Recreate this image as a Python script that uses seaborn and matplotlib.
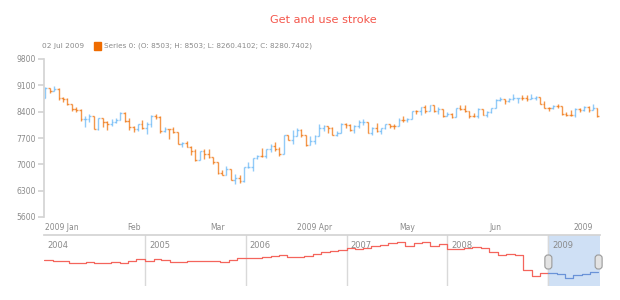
import pandas as pd
import numpy as np
import matplotlib.pyplot as plt
import seaborn as sns
from matplotlib.patches import Rectangle, FancyBboxPatch

sns.set_theme(style="white")
plt.rcParams["font.family"] = ["DejaVu Sans"]

# daily OHLC, 2 Jan 2009 .. 2 Jul 2009 (trading days only)
holidays = ["2009-01-19", "2009-02-16", "2009-04-10", "2009-05-25"]
dates = pd.bdate_range("2009-01-02", "2009-07-02").drop(pd.to_datetime(holidays))

open_ = [8772, 9035, 8953, 9015, 8770, 8742, 8599, 8474, 8449, 8200, 8212, 8281, 7949, 8228, 8123, 8078, 8116, 8175, 8375, 8149,
         8001, 7937, 8078, 7957, 8063, 8281, 8271, 7889, 7940, 7933, 7850, 7553, 7556, 7466, 7366, 7115, 7351, 7271, 7182,
         7063, 6763, 6726, 6876, 6594, 6627, 6547, 6926, 6930, 7170, 7224, 7217, 7396, 7487, 7401, 7278, 7776, 7660, 7750, 7925, 7776, 7522,
         7609, 7762, 7978, 8018, 7976, 7790, 7837, 8083, 8058, 7920, 8030, 8125, 8131, 7842, 7970, 7887, 7957, 8076, 8025, 8017, 8186,
         8168, 8212, 8427, 8411, 8512, 8410, 8575, 8419, 8469, 8285, 8331, 8269, 8504, 8475, 8422, 8292, 8277, 8473, 8300, 8404,
         8500, 8721, 8741, 8675, 8750, 8763, 8764, 8763, 8739, 8771, 8799, 8612, 8505, 8497, 8556, 8540, 8339, 8323, 8300, 8472, 8438, 8529,
         8447, 8503]
high = [9065, 9040, 9088, 9017, 8790, 8770, 8603, 8523, 8460, 8272, 8341, 8290, 8233, 8240, 8152, 8217, 8226, 8381, 8385, 8243,
        8010, 8082, 8168, 8131, 8315, 8346, 8275, 7998, 7950, 7981, 7855, 7601, 7609, 7494, 7400, 7362, 7399, 7403, 7190,
        7070, 6849, 6959, 6880, 6755, 6710, 6930, 7064, 7175, 7247, 7428, 7400, 7541, 7581, 7465, 7780, 7780, 7918, 7959, 7930, 7780, 7750,
        7789, 8075, 8034, 8020, 7980, 7880, 8088, 8090, 8060, 8033, 8169, 8198, 8135, 7986, 8102, 7963, 8083, 8080, 8081, 8224, 8274,
        8225, 8430, 8441, 8519, 8575, 8587, 8580, 8513, 8472, 8397, 8360, 8508, 8579, 8588, 8425, 8359, 8486, 8480, 8431, 8505,
        8732, 8800, 8745, 8755, 8878, 8776, 8835, 8830, 8857, 8807, 8802, 8676, 8524, 8586, 8612, 8542, 8397, 8453, 8491, 8488, 8540, 8557,
        8607, 8503]
low = [8761, 8892, 8941, 8720, 8651, 8577, 8422, 8396, 8140, 7995, 8116, 7940, 7906, 7995, 7909, 8023, 8088, 8170, 8134, 7925,
       7858, 7881, 7926, 7811, 8001, 8201, 7841, 7851, 7674, 7835, 7530, 7469, 7448, 7249, 7093, 7110, 7139, 7167, 7014,
       6737, 6706, 6720, 6573, 6470, 6517, 6540, 6902, 6829, 7142, 7203, 7169, 7319, 7361, 7231, 7270, 7641, 7545, 7745, 7739, 7484, 7515,
       7548, 7755, 7880, 7820, 7770, 7749, 7830, 7973, 7884, 7839, 7967, 8051, 7832, 7776, 7868, 7806, 7950, 7961, 7934, 8010, 8115,
       8132, 8205, 8341, 8324, 8366, 8405, 8393, 8349, 8263, 8280, 8240, 8262, 8447, 8384, 8229, 8259, 8222, 8299, 8245, 8368,
       8495, 8680, 8602, 8645, 8705, 8618, 8722, 8675, 8735, 8700, 8594, 8498, 8430, 8463, 8486, 8317, 8287, 8291, 8262, 8393, 8421, 8389,
       8440, 8260]
close = [9035, 8953, 9015, 8770, 8742, 8599, 8474, 8449, 8200, 8212, 8281, 7949, 8228, 8123, 8078, 8116, 8175, 8375, 8149, 8001,
         7937, 8078, 7957, 8063, 8281, 8271, 7889, 7940, 7933, 7850, 7553, 7556, 7466, 7366, 7115, 7351, 7271, 7182, 7063,
         6763, 6726, 6876, 6594, 6627, 6547, 6926, 6930, 7170, 7224, 7217, 7396, 7487, 7401, 7278, 7776, 7660, 7750, 7925, 7776, 7522, 7609,
         7762, 7978, 8018, 7976, 7790, 7837, 8083, 8058, 7920, 8030, 8125, 8131, 7842, 7970, 7887, 7957, 8076, 8025, 8017, 8186, 8168,
         8212, 8427, 8411, 8512, 8410, 8575, 8419, 8469, 8285, 8331, 8269, 8504, 8475, 8422, 8292, 8277, 8473, 8300, 8404, 8500,
         8721, 8741, 8675, 8750, 8763, 8764, 8763, 8739, 8771, 8799, 8612, 8505, 8497, 8556, 8540, 8339, 8323, 8300, 8472, 8438, 8529, 8447,
         8504, 8281]

df = pd.DataFrame({"date": dates, "open": open_, "high": high, "low": low, "close": close})
df["i"] = np.arange(len(df))
df["up"] = df["close"] >= df["open"]

# scroller: monthly levels Jan 2004 .. Jul 2009
scr_dates = pd.date_range("2004-01-01", "2009-07-01", freq="MS")
scr_vals = [10347, 10247, 10147, 9847, 9807, 10007, 9847, 9807, 9947, 9687, 10147, 10647,
            10147, 10607, 10347, 9887, 9947, 10147, 10147, 10147, 10207, 9887, 10347, 10687,
            10687, 10847, 11007, 11247, 11347, 10887, 11007, 11247, 11547, 12007, 12207, 12347,
            12687, 12647, 12847, 13207, 13447, 13747, 14007, 13147, 13747, 14007, 13147, 13547,
            12607, 12647, 12747, 12947, 12747, 11947, 11347, 11607, 11347, 8347, 7147, 7847,
            7807, 7547, 6747, 7347, 7547, 7947, 8047]
years = ["2004", "2005", "2006", "2007", "2008", "2009"]

UP, DOWN = "#64b5f6", "#ef6c00"
GRAY = "#8a8a8a"

fig = plt.figure(figsize=(6.2, 3.0), dpi=100)
ax = fig.add_axes([44/620, 1-217/300, 556/620, 158/300])

# OHLC bars
cols = np.where(df["up"], UP, DOWN)
ax.vlines(df["i"], df["low"], df["high"], colors=cols, lw=1, alpha=0.7)
ax.hlines(df["open"], df["i"] - 0.4, df["i"], colors=cols, lw=1, alpha=0.7)
ax.hlines(df["close"], df["i"], df["i"] + 0.4, colors=cols, lw=1, alpha=0.7)

ax.set_xlim(-0.3, len(df) - 0.4)
ax.set_ylim(5600, 9800)
ax.set_yticks(np.arange(5600, 9801, 700))
for s in ["top", "right", "bottom"]:
    ax.spines[s].set_visible(False)
ax.spines["left"].set_color("#d4d4d4")
ax.tick_params(axis="y", length=4, color="#d4d4d4", labelcolor=GRAY, labelsize=5.5, pad=2, left=True)
month_first = df.groupby(df["date"].dt.month)["i"].min().values
xlabels = ["2009 Jan", "Feb", "Mar", "2009 Apr", "May", "Jun", "2009"]
ax.set_xticks(month_first)
ax.set_xticklabels(xlabels)
ax.tick_params(axis="x", length=0, labelcolor=GRAY, labelsize=5.5, pad=4)
tl = ax.get_xticklabels()
tl[0].set_ha("left")
tl[-1].set_ha("right")

# title & legend
fig.text(323/620, 1-20/300, "Get and use stroke", color="#f4564b", fontsize=8.1, ha="center", va="center")
fig.text(42/620, 1-46/300, "02 Jul 2009", color=GRAY, fontsize=5.3, va="center")
fig.patches.append(Rectangle((94/620, 1-50/300), 7/620, 8/300, transform=fig.transFigure,
                             color=DOWN, figure=fig))
fig.text(104/620, 1-46/300, "Series 0: (O: 8503; H: 8503; L: 8260.4102; C: 8280.7402)",
         color=GRAY, fontsize=5.2, va="center")

# scroller
ax2 = fig.add_axes([44/620, 1-286/300, 556/620, 51/300])
sel_start, sel_end = pd.Timestamp("2009-01-01"), pd.Timestamp("2009-07-07")
ax2.axvspan(sel_start, sel_end, color="#cfe0f5", zorder=0)
sdf = pd.DataFrame({"date": scr_dates, "value": scr_vals})
sns.lineplot(data=sdf[sdf["date"] <= sel_start], x="date", y="value", ax=ax2,
             color="#f4655c", lw=0.9, drawstyle="steps-post")
sns.lineplot(data=sdf[sdf["date"] >= sel_start], x="date", y="value", ax=ax2,
             color="#6a93d8", lw=0.9, drawstyle="steps-post")
for y in years:
    t = pd.Timestamp(y + "-01-01")
    if y != "2004":
        ax2.axvline(t, color="#d9d9d9", lw=1, zorder=0.5)
    ax2.text(t + pd.Timedelta(days=14), 0.8, y, transform=ax2.get_xaxis_transform(),
             color=GRAY, fontsize=6, va="center")
ax2.set_xlim(pd.Timestamp("2004-01-01"), sel_end)
ax2.set_ylim(5147, 15347)
ax2.set_xlabel("")
ax2.set_ylabel("")
ax2.set_xticks([])
ax2.set_yticks([])
for s in ["left", "right", "bottom"]:
    ax2.spines[s].set_visible(False)
ax2.spines["top"].set_color("#d4d4d4")

# selection handles
for t in [sel_start, sel_end - pd.Timedelta(days=5)]:
    xd = ax2.transData.transform((ax2.xaxis.convert_units(t), 0))[0] / fig.dpi
    box = FancyBboxPatch((xd - 0.035, 0.38 - 0.07), 0.07, 0.14, boxstyle="round,pad=0,rounding_size=0.03",
                         transform=fig.dpi_scale_trans, facecolor="#e3e3e3", edgecolor="#9a9a9a", lw=0.8)
    fig.patches.append(box)

fig.savefig("out.png", dpi=100)
